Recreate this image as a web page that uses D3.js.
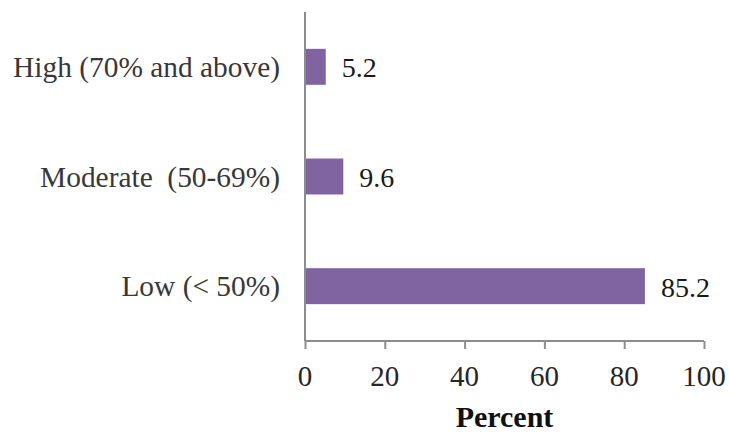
<!DOCTYPE html>
<html>
<head>
<meta charset="utf-8">
<script src="https://cdn.jsdelivr.net/npm/d3@7"></script>
<style>
  body { margin: 0; background: #fff; }
  svg text { font-family: "Liberation Serif", "DejaVu Serif", serif; white-space: pre; }
</style>
</head>
<body>
<div id="chart"></div>
<script>
// data
var categories = ["High (70% and above)", "Moderate  (50-69%)", "Low (< 50%)"];
var percents = [5.2, 9.6, 85.2];
var xTicks = [0, 20, 40, 60, 80, 100];

var width = 729, height = 432;
var plotLeft = 305, plotRight = 704, plotTop = 12, axisY = 341;

var svg = d3.select("#chart").append("svg")
    .attr("width", width)
    .attr("height", height);

var x = d3.scaleLinear().domain([0, 100]).range([plotLeft, plotRight]);
var y = d3.scaleBand().domain(categories).range([plotTop, axisY])
    .paddingInner(0.672).paddingOuter(0.336);

function label(str, px, py, anchor, size, weight, fill) {
    return svg.append("text")
        .attr("x", px)
        .attr("y", py)
        .attr("text-anchor", anchor)
        .attr("dominant-baseline", "central")
        .attr("font-size", size)
        .attr("font-weight", weight || "normal")
        .attr("fill", fill || "#000")
        .text(str);
}

// bars
svg.selectAll("rect.bar")
    .data(percents)
    .enter().append("rect")
    .attr("class", "bar")
    .attr("x", x(0))
    .attr("y", function(d, i) { return y(categories[i]); })
    .attr("width", function(d) { return x(d) - x(0); })
    .attr("height", y.bandwidth())
    .attr("fill", "#8064a2");

// value labels
percents.forEach(function(d, i) {
    label(d.toFixed(1), x(d) + 16, y(categories[i]) + y.bandwidth() / 2 + 1, "start", 28, "normal", "#1a1a1a");
});

// category labels
categories.forEach(function(c) {
    label(c, 280, y(c) + y.bandwidth() / 2, "end", 29.4, "normal", "#383838");
});

// y axis line
svg.append("line")
    .attr("x1", x(0)).attr("x2", x(0))
    .attr("y1", plotTop).attr("y2", axisY)
    .attr("stroke", "#8c8c8c").attr("stroke-width", 2);

// x axis
var xAxis = svg.append("g")
    .attr("transform", "translate(0," + axisY + ")")
    .call(d3.axisBottom(x).tickValues(xTicks).tickSize(8).tickFormat(""));
xAxis.select(".domain").attr("stroke", "#8c8c8c").attr("stroke-width", 2)
    .attr("d", "M" + x(0) + ",0H" + x(100));
xAxis.selectAll(".tick line").attr("stroke", "#8c8c8c").attr("stroke-width", 2);

xTicks.forEach(function(t) {
    label(t, x(t), 376, "middle", 29, "normal", "#262626");
});

// axis title
label("Percent", x(50), 416, "middle", 30, "bold", "#111");
</script>
</body>
</html>
